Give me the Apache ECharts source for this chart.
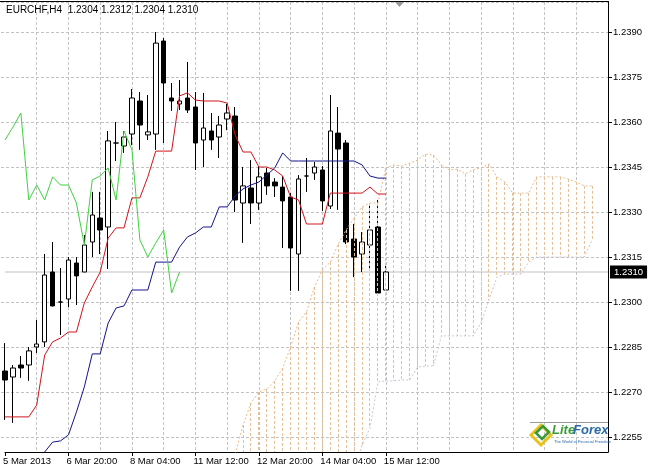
<!DOCTYPE html>
<html><head><meta charset="utf-8">
<script src="https://cdn.jsdelivr.net/npm/echarts@6/dist/echarts.min.js"></script>
<style>html,body{margin:0;padding:0;background:#fff;}#c{width:651px;height:471px;}</style>
</head><body><div id="c"></div>
<script>
// ---------- DATA ----------
const titleText = "EURCHF,H4  1.2304 1.2312 1.2304 1.2310";
const tickLabels = ["5 Mar 2013","6 Mar 20:00","8 Mar 04:00","11 Mar 12:00","12 Mar 20:00","14 Mar 04:00","15 Mar 12:00"];
const priceTickStart = 1.2255;   // first labelled price tick
const priceTickStep = 0.0015;
const barCount = 77;          // 49 price bars + 26 future bars for the cloud + 2 spare
const lastPrice = 1.2310;

// candles: [open, close, low, high]
const candles = [
 [1.22770,1.22740,1.22607,1.22863],
 [1.22750,1.22780,1.22597,1.22790],
 [1.22790,1.22780,1.22747,1.22820],
 [1.22790,1.22837,1.22737,1.22850],
 [1.22850,1.22860,1.22830,1.22940],
 [1.22867,1.23090,1.22850,1.23160],
 [1.23100,1.22987,1.22985,1.23200],
 [1.23000,1.23000,1.22890,1.23113],
 [1.23010,1.23140,1.22983,1.23150],
 [1.23130,1.23087,1.22990,1.23150],
 [1.23100,1.23190,1.23100,1.23223],
 [1.23200,1.23290,1.23150,1.23367],
 [1.23280,1.23240,1.23160,1.23367],
 [1.23250,1.23537,1.23110,1.23570],
 [1.23530,1.23530,1.23470,1.23600],
 [1.23520,1.23550,1.23497,1.23570],
 [1.23560,1.23680,1.23523,1.23710],
 [1.23670,1.23590,1.23507,1.23700],
 [1.23557,1.23567,1.23540,1.23690],
 [1.23560,1.23863,1.23507,1.23900],
 [1.23870,1.23730,1.23530,1.23880],
 [1.23680,1.23670,1.23637,1.23730],
 [1.23660,1.23670,1.23640,1.23740],
 [1.23680,1.23640,1.23630,1.23800],
 [1.23650,1.23530,1.23440,1.23700],
 [1.23540,1.23580,1.23450,1.23697],
 [1.23570,1.23540,1.23507,1.23630],
 [1.23550,1.23590,1.23480,1.23620],
 [1.23610,1.23630,1.23573,1.23660],
 [1.23620,1.23340,1.23300,1.23650],
 [1.23330,1.23387,1.23197,1.23450],
 [1.23380,1.23330,1.23260,1.23473],
 [1.23330,1.23417,1.23307,1.23453],
 [1.23430,1.23387,1.23357,1.23447],
 [1.23400,1.23387,1.23350,1.23413],
 [1.23383,1.23337,1.23180,1.23420],
 [1.23350,1.23180,1.23037,1.23363],
 [1.23160,1.23410,1.23037,1.23423],
 [1.23420,1.23420,1.23367,1.23480],
 [1.23430,1.23450,1.23407,1.23467],
 [1.23440,1.23337,1.23303,1.23453],
 [1.23320,1.23570,1.23310,1.23690],
 [1.23563,1.23510,1.23307,1.23650],
 [1.23530,1.23200,1.23193,1.23540],
 [1.23210,1.23150,1.23083,1.23260],
 [1.23160,1.23200,1.23100,1.23233],
 [1.23190,1.23240,1.23107,1.23320],
 [1.23250,1.23030,1.23030,1.23340],
 [1.23040,1.23100,1.23040,1.23120]
];

// Tenkan-sen (red), from bar 0
const tenkan = [1.22617,1.22617,1.22617,1.22617,1.22657,1.22823,1.22867,1.22880,1.22900,1.22900,
 1.22997,1.23050,1.23100,1.23213,1.23247,1.23247,1.23347,1.23347,1.23417,1.23503,
 1.23503,1.23503,1.23687,1.23697,1.23673,1.23670,1.23670,1.23670,1.23663,1.23557,
 1.23500,1.23500,1.23450,1.23450,1.23440,1.23420,1.23350,1.23340,1.23260,1.23260,
 1.23260,1.23363,1.23363,1.23363,1.23363,1.23363,1.23383,1.23360,1.23360];

// Kijun-sen (blue), from bar 5
const kijunStart = 5;
const kijun = [1.22500,1.22533,1.22537,1.22557,1.22633,1.22717,1.22827,1.22827,1.22930,1.22980,
 1.22987,1.23040,1.23040,1.23040,1.23133,1.23133,1.23133,1.23183,1.23217,1.23230,
 1.23250,1.23250,1.23317,1.23317,1.23353,1.23377,1.23390,1.23400,1.23423,1.23447,
 1.23497,1.23470,1.23470,1.23470,1.23470,1.23470,1.23470,1.23470,1.23470,1.23470,
 1.23457,1.23420,1.23413,1.23413];

// Chikou span (green), from bar 0
const chikou = [1.23540,1.23583,1.23630,1.23340,1.23390,1.23340,1.23417,1.23390,1.23390,1.23330,
 1.23190,1.23407,1.23420,1.23447,1.23340,1.23570,1.23507,1.23207,1.23150,1.23197,
 1.23240,1.23030,1.23100];

// Senkou span A, from bar 29
const spanAStart = 29;
const spanA = [1.22493,1.22590,1.22663,1.22700,1.22710,1.22737,1.22780,1.22850,1.22933,1.22967,
 1.23050,1.23107,1.23133,1.23193,1.23240,1.23280,1.23317,1.23330,1.23330,1.23447,
 1.23457,1.23453,1.23463,1.23473,1.23493,1.23490,1.23457,1.23440,1.23443,1.23427,
 1.23440,1.23447,1.23460,1.23417,1.23400,1.23363,1.23363,1.23363,1.23417,1.23417,
 1.23417,1.23417,1.23410,1.23400,1.23387,1.23387];

// Senkou span B, from bar 44
const spanBStart = 44;
const spanB = [1.22440,1.22523,1.22580,1.22733,1.22737,1.22737,1.22740,1.22740,1.22783,1.22787,
 1.22787,1.22887,1.22887,1.22887,1.22887,1.22887,1.22930,1.23007,1.23083,1.23093,
 1.23093,1.23093,1.23133,1.23150,1.23150,1.23150,1.23150,1.23150,1.23150,1.23150,
 1.23207];

// ---------- CHART ----------
const FONT = 'Liberation Sans, Arial, sans-serif';
const cats = Array.from({length: barCount}, (_, i) => String(i));
const chart = echarts.init(document.getElementById('c'), null, {renderer: 'canvas'});
const labelIdx = (i) => i % 8 === 0 && i / 8 < tickLabels.length;
const gridCol = '#c2c2c2';
const hatchCol = '#e6c098';
const yMin = 1.2250, yMax = 1.2400;
const plotTop = 2, plotH = 450;
// second (display) grid: same pixel scale, bottom at the first labelled tick
const pxPerUnit = plotH / (yMax - yMin);
const grid2H = (yMax - priceTickStart) * pxPerUnit;

chart.setOption({
  animation: false,
  backgroundColor: '#fff',
  grid: [
    {left: 1, top: plotTop, width: 607, height: plotH, containLabel: false},
    {left: 1, top: plotTop, width: 607, height: grid2H, containLabel: false}
  ],
  xAxis: [{
    type: 'category', data: cats, boundaryGap: false, gridIndex: 0,
    axisLine: {show: true, lineStyle: {color: '#000', width: 1}},
    axisTick: {show: true, interval: (i) => labelIdx(i), length: 4, lineStyle: {color: '#000'}},
    axisLabel: {interval: (i) => labelIdx(i), formatter: (v, i) => labelIdx(i) ? tickLabels[i / 8] : '',
      align: 'left', margin: 4, padding: [0, 0, 0, -2], fontSize: 9.5, fontFamily: FONT, color: '#000'},
    splitLine: {show: true, interval: (i) => i % 4 === 0 && i > 0 && i < barCount - 1,
      lineStyle: {color: gridCol, type: [3, 2], width: 1}}
  }, {
    type: 'category', data: cats, boundaryGap: false, gridIndex: 1, show: false
  }],
  yAxis: [{
    type: 'value', position: 'right', min: yMin, max: yMax, gridIndex: 0,
    axisLine: {show: true, lineStyle: {color: '#000', width: 1}},
    axisTick: {show: false}, axisLabel: {show: false}, splitLine: {show: false}
  }, {
    type: 'value', position: 'right', min: priceTickStart, max: yMax, interval: priceTickStep, gridIndex: 1,
    axisLine: {show: false},
    axisTick: {show: true, length: 4, lineStyle: {color: '#000'}},
    axisLabel: {showMinLabel: true, showMaxLabel: false, formatter: (v) => v.toFixed(4),
      margin: 5, fontSize: 9.5, fontFamily: FONT, color: '#000'},
    splitLine: {show: true, lineStyle: {color: gridCol, type: [3, 2], width: 1}}
  }],
  graphic: [
    {type: 'line', shape: {x1: 0, y1: 1.5, x2: 609, y2: 1.5}, style: {stroke: '#000', lineWidth: 1}, z: 100},
    {type: 'text', left: 6, top: 5, style: {text: titleText, font: '10px ' + FONT, fill: '#000'}, z: 100},
    {type: 'polygon', shape: {points: [[395, 2], [404, 2], [399.5, 7]]}, style: {fill: '#9a9a9a'}, z: 100},
    {type: 'line', shape: {x1: 530, y1: 422.5, x2: 608, y2: 422.5}, style: {stroke: '#9a9a9a', lineWidth: 1}, z: 100},
    {type: 'polygon', shape: {points: [[531, 435], [541, 425], [551, 435], [541, 445]]},
      style: {fill: 'none', stroke: '#e8c21a', lineWidth: 3}, z: 100},
    {type: 'polygon', shape: {points: [[536, 433], [543, 426], [549, 432], [542, 439]]},
      style: {fill: 'none', stroke: '#3a9a3a', lineWidth: 2.5}, z: 101},
    {type: 'text', left: 552, top: 424, style: {text: 'Lite', font: 'italic bold 13px ' + FONT, fill: '#3c9c3c'}, z: 101},
    {type: 'text', left: 573, top: 424, style: {text: 'Forex', font: 'italic bold 13px ' + FONT, fill: '#2a6aa8'}, z: 101},
    {type: 'text', left: 554, top: 440, style: {text: 'The World of Financial Freedom', font: '4px ' + FONT, fill: '#2a6aa8'}, z: 101}
  ],
  series: [
    {
      type: 'line', name: 'Bid', z: 1, showSymbol: false, clip: true, silent: true,
      data: [[0, lastPrice], [barCount - 1, lastPrice]],
      lineStyle: {color: '#c0c0c0', width: 1},
      endLabel: {show: true, formatter: () => lastPrice.toFixed(4), distance: 2,
        backgroundColor: '#000', color: '#fff', padding: [2, 4, 1, 4], fontSize: 9.5, fontFamily: FONT}
    },
    {
      type: 'candlestick', name: 'EURCHF', z: 2, barWidth: 5, clip: true,
      data: candles,
      itemStyle: {color: '#fff', color0: '#000', borderColor: '#000', borderColor0: '#000', borderWidth: 1}
    },
    {
      type: 'custom', name: 'Kumo', z: 3, clip: true,
      data: spanA.map((v, k) => [k + spanAStart, v]),
      renderItem: (params, api) => {
        const j = api.value(0);
        const a = api.value(1);
        const bi = j - spanBStart;
        const cs = params.coordSys;
        const pA = api.coord([j, a]);
        let yB;
        if (bi >= 0 && bi < spanB.length) { yB = api.coord([j, spanB[bi]])[1]; } else { yB = cs.y + cs.height; }
        const clampY = (y) => Math.min(cs.y + cs.height, Math.max(cs.y, y));
        const x = Math.floor(pA[0]) + 0.5;
        return {type: 'line', shape: {x1: x, y1: clampY(pA[1]), x2: x, y2: clampY(yB)},
          style: {stroke: hatchCol, lineWidth: 1, lineDash: [3, 2]}};
      }
    },
    {type: 'line', name: 'SpanA', z: 4, showSymbol: false, clip: true,
      data: spanA.map((v, k) => [k + spanAStart, v]),
      lineStyle: {color: '#e9b98c', width: 1, type: [2, 2]}},
    {type: 'line', name: 'SpanB', z: 4, showSymbol: false, clip: true,
      data: spanB.map((v, k) => [k + spanBStart, v]),
      lineStyle: {color: '#d2c2d6', width: 1, type: [2, 2]}},
    {type: 'line', name: 'Tenkan', z: 5, showSymbol: false, clip: true,
      data: tenkan.map((v, i) => [i, v]),
      lineStyle: {color: '#d0141c', width: 1}},
    {type: 'line', name: 'Kijun', z: 5, showSymbol: false, clip: true,
      data: kijun.map((v, k) => [k + kijunStart, v]),
      lineStyle: {color: '#14148c', width: 1}},
    {type: 'line', name: 'Chikou', z: 5, showSymbol: false, clip: true,
      data: chikou.map((v, i) => [i, v]),
      lineStyle: {color: '#3fd23f', width: 1}}
  ]
});
</script></body></html>
